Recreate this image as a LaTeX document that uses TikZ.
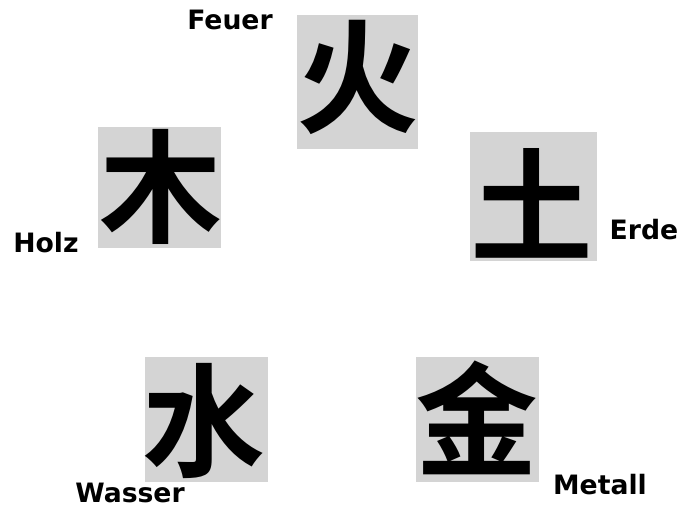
\documentclass[tikz,border=0pt]{standalone}
\usepackage{fontspec}
\setmainfont{DejaVu Sans}
\newfontfamily\cjk{Noto Sans CJK SC}[BoldFont=* Bold]
\definecolor{boxgray}{HTML}{D4D4D4}
\begin{document}
\begin{tikzpicture}[x=0.75pt,y=-0.75pt,
  elem/.style={fill=boxgray,draw=none,inner sep=0pt,anchor=north west},
  glyph/.style={inner sep=0pt,anchor=center,font=\cjk\bfseries\fontsize{92}{92}\selectfont},
  lbl/.style={font=\bfseries\fontsize{20}{20}\selectfont,inner sep=0pt,anchor=center}]
\useasboundingbox (0,0) rectangle (683,516);
\fill[boxgray] (297,15) rectangle (418,149);
\fill[boxgray] (98,127) rectangle (221,248);
\fill[boxgray] (470,132) rectangle (597,261);
\fill[boxgray] (145,357) rectangle (268,482);
\fill[boxgray] (416,357) rectangle (539,482);
\node[glyph] (feuer) at (358,77) {火};
\node[glyph] (holz) at (161,187) {木};
\node[glyph] (erde) at (532,203) {土};
\node[glyph] (wasser) at (204,421) {水};
\node[glyph] (metall) at (477,418) {金};
\node[lbl] (lfeuer) at (230,20) {Feuer};
\node[lbl] (lholz) at (46,243) {Holz};
\node[lbl] (lerde) at (644,230) {Erde};
\node[lbl] (lwasser) at (130,493) {Wasser};
\node[lbl] (lmetall) at (600,485) {Metall};
\end{tikzpicture}
\end{document}
